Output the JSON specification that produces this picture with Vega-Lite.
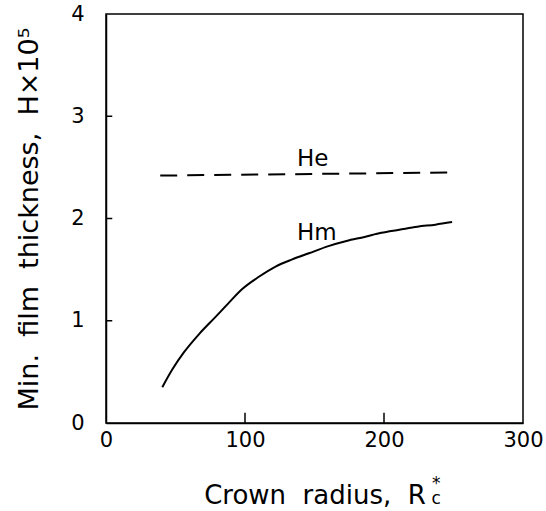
{
  "$schema": "https://vega.github.io/schema/vega-lite/v6.json",
  "width": 417,
  "height": 409,
  "autosize": {"type": "none"},
  "padding": {"left": 106, "top": 14, "right": 23, "bottom": 88},
  "background": "white",
  "config": {
    "view": {"stroke": "black", "strokeWidth": 1.5},
    "font": "DejaVu Sans"
  },
  "datasets": {
    "curves": [
      {"curve": "Hm", "x": 40.5, "y": 0.35},
      {"curve": "Hm", "x": 48, "y": 0.53},
      {"curve": "Hm", "x": 56, "y": 0.69},
      {"curve": "Hm", "x": 67, "y": 0.87},
      {"curve": "Hm", "x": 79, "y": 1.04},
      {"curve": "Hm", "x": 88, "y": 1.17},
      {"curve": "Hm", "x": 98, "y": 1.31},
      {"curve": "Hm", "x": 110, "y": 1.43},
      {"curve": "Hm", "x": 122, "y": 1.53},
      {"curve": "Hm", "x": 134, "y": 1.6},
      {"curve": "Hm", "x": 146, "y": 1.66},
      {"curve": "Hm", "x": 160, "y": 1.73},
      {"curve": "Hm", "x": 173, "y": 1.78},
      {"curve": "Hm", "x": 186, "y": 1.82},
      {"curve": "Hm", "x": 198, "y": 1.86},
      {"curve": "Hm", "x": 211, "y": 1.89},
      {"curve": "Hm", "x": 224, "y": 1.92},
      {"curve": "Hm", "x": 237, "y": 1.94},
      {"curve": "Hm", "x": 249, "y": 1.965},
      {"curve": "He", "x": 39, "y": 2.42},
      {"curve": "He", "x": 249, "y": 2.45}
    ],
    "labels": [
      {"kind": "curve", "text": "He", "x": 148.7, "y": 2.51},
      {"kind": "curve", "text": "Hm", "x": 151.6, "y": 1.79},
      {"kind": "sub", "text": "c", "x": 237.5, "y": -0.79},
      {"kind": "sup", "text": "*", "x": 237.5, "y": -0.6}
    ],
    "xticks": [{"v": 100}, {"v": 200}],
    "yticks": [{"v": 1}, {"v": 2}, {"v": 3}]
  },
  "layer": [
    {
      "data": {"name": "curves"},
      "transform": [{"filter": "datum.curve === 'Hm'"}],
      "mark": {"type": "line", "color": "black", "strokeWidth": 2, "interpolate": "monotone"},
      "encoding": {
        "x": {
          "field": "x", "type": "quantitative",
          "scale": {"domain": [0, 300], "nice": false},
          "axis": {
            "values": [0, 100, 200, 300],
            "grid": false,
            "ticks": false,
            "domainColor": "black", "domainWidth": 1.5,
            "labelFont": "DejaVu Sans", "labelFontSize": 21, "labelColor": "black",
            "labelPadding": 6, "labelFlush": false, "labelOverlap": false,
            "title": "Crown\u00a0 radius,\u00a0 R",
            "titleFont": "DejaVu Sans", "titleFontSize": 26, "titleFontWeight": "normal", "titleColor": "black",
            "titleBaseline": "alphabetic", "titleY": 80
          }
        },
        "y": {
          "field": "y", "type": "quantitative",
          "scale": {"domain": [0, 4], "nice": false},
          "axis": {
            "values": [0, 1, 2, 3, 4],
            "format": "d",
            "grid": false,
            "ticks": false,
            "domainColor": "black", "domainWidth": 1.5,
            "labelFont": "DejaVu Sans", "labelFontSize": 21, "labelColor": "black",
            "labelPadding": 22, "labelFlush": false, "labelOverlap": false,
            "title": "Min.\u00a0 film\u00a0 thickness,\u00a0 H×10⁵",
            "titleFont": "DejaVu Sans", "titleFontSize": 27, "titleFontWeight": "normal", "titleColor": "black",
            "titleBaseline": "alphabetic", "titleX": -69
          }
        }
      }
    },
    {
      "data": {"name": "curves"},
      "transform": [{"filter": "datum.curve === 'He'"}],
      "mark": {"type": "line", "color": "black", "strokeWidth": 2, "strokeDash": [17, 10]},
      "encoding": {
        "x": {"field": "x", "type": "quantitative"},
        "y": {"field": "y", "type": "quantitative"}
      }
    },
    {
      "data": {"name": "xticks"},
      "mark": {"type": "rule", "color": "black", "strokeWidth": 1.5},
      "encoding": {
        "x": {"field": "v", "type": "quantitative"},
        "y": {"datum": 0, "type": "quantitative"},
        "y2": {"datum": 0.1}
      }
    },
    {
      "data": {"name": "yticks"},
      "mark": {"type": "rule", "color": "black", "strokeWidth": 1.5},
      "encoding": {
        "y": {"field": "v", "type": "quantitative"},
        "x": {"datum": 0, "type": "quantitative"},
        "x2": {"datum": 4.5}
      }
    },
    {
      "data": {"name": "labels"},
      "transform": [{"filter": "datum.kind === 'curve'"}],
      "mark": {"type": "text", "fontSize": 23, "font": "DejaVu Sans", "color": "black", "align": "center", "baseline": "alphabetic"},
      "encoding": {
        "x": {"field": "x", "type": "quantitative"},
        "y": {"field": "y", "type": "quantitative"},
        "text": {"field": "text"}
      }
    },
    {
      "data": {"name": "labels"},
      "transform": [{"filter": "datum.kind === 'sub'"}],
      "mark": {"type": "text", "fontSize": 17, "font": "DejaVu Sans", "color": "black", "align": "center", "baseline": "alphabetic"},
      "encoding": {
        "x": {"field": "x", "type": "quantitative"},
        "y": {"field": "y", "type": "quantitative"},
        "text": {"field": "text"}
      }
    },
    {
      "data": {"name": "labels"},
      "transform": [{"filter": "datum.kind === 'sup'"}],
      "mark": {"type": "text", "fontSize": 17, "font": "DejaVu Sans", "color": "black", "align": "center", "baseline": "middle"},
      "encoding": {
        "x": {"field": "x", "type": "quantitative"},
        "y": {"field": "y", "type": "quantitative"},
        "text": {"field": "text"}
      }
    }
  ]
}
